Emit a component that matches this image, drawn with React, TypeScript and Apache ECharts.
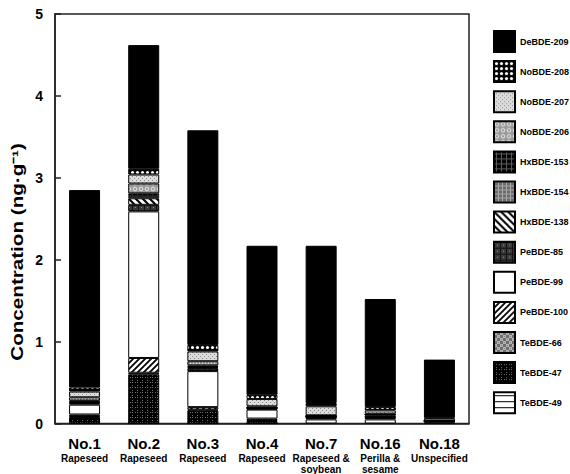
import React, { useEffect, useRef } from 'react';
import * as echarts from 'echarts';

const categories = ['No.1', 'No.2', 'No.3', 'No.4', 'No.7', 'No.16', 'No.18'];
const oilTypes = ['Rapeseed', 'Rapeseed', 'Rapeseed', 'Rapeseed', 'Rapeseed &\nsoybean', 'Perilla &\nsesame', 'Unspecified'];
const yTicks = [0, 1, 2, 3, 4, 5];
const yTitle = 'Concentration (ng·g⁻¹)';

// Legend order (top to bottom); stacked bottom-up in reverse order
const congeners = [
  'DeBDE-209', 'NoBDE-208', 'NoBDE-207', 'NoBDE-206',
  'HxBDE-153', 'HxBDE-154', 'HxBDE-138',
  'PeBDE-85', 'PeBDE-99', 'PeBDE-100',
  'TeBDE-66', 'TeBDE-47', 'TeBDE-49',
];

const deBDE209 = [2.41, 1.51, 2.62, 1.82, 1.92, 1.32, 0.71];
const noBDE208 = [0.05, 0.07, 0.08, 0.05, 0.04, 0.04, 0.01];
const noBDE207 = [0.07, 0.11, 0.12, 0.09, 0.11, 0.04, 0.03];
const noBDE206 = [0.04, 0.12, 0.05, 0.02, 0.01, 0.01, 0];
const hxBDE153 = [0.01, 0.03, 0.02, 0, 0, 0, 0];
const hxBDE154 = [0.01, 0.03, 0.01, 0, 0, 0, 0];
const hxBDE138 = [0.01, 0.08, 0.01, 0.01, 0, 0, 0];
const peBDE85 = [0.02, 0.08, 0.03, 0.01, 0.01, 0.01, 0];
const peBDE99 = [0.12, 1.79, 0.44, 0.11, 0, 0.02, 0];
const peBDE100 = [0.02, 0.18, 0.03, 0.02, 0, 0, 0];
const teBDE66 = [0.01, 0.02, 0.01, 0.01, 0.01, 0.01, 0];
const teBDE47 = [0.08, 0.6, 0.16, 0.03, 0.02, 0.02, 0.02];
const teBDE49 = [0, 0, 0, 0, 0.05, 0.05, 0.01];

const seriesValues = [
  deBDE209, noBDE208, noBDE207, noBDE206,
  hxBDE153, hxBDE154, hxBDE138,
  peBDE85, peBDE99, peBDE100,
  teBDE66, teBDE47, teBDE49,
];

const FONT = "'Liberation Sans', Arial, Helvetica, sans-serif";

type Draw = (ctx: CanvasRenderingContext2D, w: number, h: number) => void;
function pat(w: number, h: number, draw: Draw): any {
  const c = document.createElement('canvas');
  c.width = w;
  c.height = h;
  const ctx = c.getContext('2d')!;
  draw(ctx, w, h);
  return { image: c, repeat: 'repeat', imageWidth: w, imageHeight: h };
}

function makeFills(): any[] {
  const fillAll = (ctx: CanvasRenderingContext2D, col: string, w: number, h: number) => {
    ctx.fillStyle = col;
    ctx.fillRect(0, 0, w, h);
  };
  return [
    '#000000',
    // NoBDE-208: white dots on black checker
    pat(5, 5, (ctx, w, h) => {
      fillAll(ctx, '#000', w, h);
      ctx.fillStyle = '#fff';
      ctx.beginPath();
      ctx.arc(2.5, 2.5, 1.6, 0, Math.PI * 2);
      ctx.fill();
    }),
    // NoBDE-207: light grey stipple
    pat(4, 4, (ctx, w, h) => {
      fillAll(ctx, '#dcdcdc', w, h);
      ctx.fillStyle = '#8a8a8a';
      ctx.fillRect(0, 0, 1, 1);
      ctx.fillRect(2, 2, 1, 1);
    }),
    // NoBDE-206: grey with light circles
    pat(6, 6, (ctx, w, h) => {
      fillAll(ctx, '#9a9a9a', w, h);
      ctx.strokeStyle = '#e6e6e6';
      ctx.lineWidth = 1;
      ctx.beginPath();
      ctx.arc(3, 3, 1.8, 0, Math.PI * 2);
      ctx.stroke();
    }),
    // HxBDE-153: black grid
    pat(5, 5, (ctx, w, h) => {
      fillAll(ctx, '#050505', w, h);
      ctx.fillStyle = '#5a5a5a';
      ctx.fillRect(2, 0, 1, 5);
      ctx.fillRect(0, 2, 5, 1);
    }),
    // HxBDE-154: grey grid
    pat(4, 4, (ctx, w, h) => {
      fillAll(ctx, '#6a6a6a', w, h);
      ctx.fillStyle = '#a8a8a8';
      ctx.fillRect(0, 0, 1, 4);
      ctx.fillRect(0, 0, 4, 1);
    }),
    // HxBDE-138: backslash hatch
    pat(7, 7, (ctx, w, h) => {
      fillAll(ctx, '#fff', w, h);
      ctx.strokeStyle = '#000';
      ctx.lineWidth = 2;
      ctx.beginPath();
      ctx.moveTo(-2, -2); ctx.lineTo(9, 9);
      ctx.moveTo(-9, -2); ctx.lineTo(2, 9);
      ctx.moveTo(5, -2); ctx.lineTo(16, 9);
      ctx.stroke();
    }),
    // PeBDE-85: dark crosshatch grid
    pat(6, 6, (ctx, w, h) => {
      fillAll(ctx, '#3a3a3a', w, h);
      ctx.fillStyle = '#111';
      ctx.fillRect(0, 0, 1, 6);
      ctx.fillRect(0, 0, 6, 1);
      ctx.fillStyle = '#8c8c8c';
      ctx.fillRect(3, 3, 1, 1);
    }),
    // PeBDE-99: white
    '#ffffff',
    // PeBDE-100: slash hatch
    pat(6, 6, (ctx, w, h) => {
      fillAll(ctx, '#fff', w, h);
      ctx.strokeStyle = '#000';
      ctx.lineWidth = 1.8;
      ctx.beginPath();
      ctx.moveTo(-2, 8); ctx.lineTo(8, -2);
      ctx.moveTo(-8, 8); ctx.lineTo(2, -2);
      ctx.moveTo(4, 8); ctx.lineTo(14, -2);
      ctx.stroke();
    }),
    // TeBDE-66: grey checkered
    pat(6, 6, (ctx, w, h) => {
      fillAll(ctx, '#6e6e6e', w, h);
      ctx.fillStyle = '#b4b4b4';
      ctx.fillRect(0, 0, 3, 3);
      ctx.fillRect(3, 3, 3, 3);
      ctx.fillStyle = '#8a8a8a';
      ctx.fillRect(1, 1, 1, 1);
      ctx.fillRect(4, 4, 1, 1);
    }),
    // TeBDE-47: black with grey dotted grid
    pat(5, 5, (ctx, w, h) => {
      fillAll(ctx, '#000', w, h);
      ctx.fillStyle = '#6e6e6e';
      ctx.fillRect(2, 2, 1, 1);
      ctx.fillRect(0, 2, 1, 1);
      ctx.fillRect(2, 0, 1, 1);
    }),
    // TeBDE-49: horizontal lines
    pat(4, 6, (ctx, w, h) => {
      fillAll(ctx, '#fff', w, h);
      ctx.fillStyle = '#000';
      ctx.fillRect(0, 3, 4, 1);
    }),
  ];
}

export default function App() {
  const ref = useRef<HTMLDivElement>(null);

  useEffect(() => {
    if (!ref.current) return;
    const chart = echarts.init(ref.current, undefined, { renderer: 'svg' });
    const fills = makeFills();

    const stackOrder = congeners.map((_, i) => i).reverse();
    const series = stackOrder.map((i) => ({
      name: congeners[i],
      type: 'bar',
      stack: 'total',
      barWidth: 31,
      data: seriesValues[i],
      itemStyle: { color: fills[i], borderColor: '#000', borderWidth: 1 },
      emphasis: { disabled: true },
    }));

    const option: any = {
      animation: false,
      grid: {
        left: 55, right: 101, top: 14, bottom: 45,
        show: true, borderColor: '#222', borderWidth: 1.5, backgroundColor: 'transparent',
      },
      legend: {
        orient: 'vertical',
        left: 488,
        top: 25,
        itemWidth: 21,
        itemHeight: 21,
        itemGap: 7.1,
        icon: 'rect',
        selectedMode: false,
        data: congeners,
        textStyle: {
          fontFamily: FONT, fontSize: 9, fontWeight: 'bold', color: '#000',
        },
      },
      graphic: [
        {
          type: 'text',
          x: 17,
          y: 252,
          rotation: Math.PI / 2,
          scaleX: 1.29,
          style: {
            text: yTitle,
            font: `bold 16px ${FONT}`,
            fill: '#000',
            align: 'center',
            verticalAlign: 'middle',
          },
        },
      ],
      xAxis: {
        type: 'category',
        data: categories,
        axisLine: { lineStyle: { color: '#222', width: 1.5 } },
        axisTick: { show: false },
        axisLabel: {
          interval: 0,
          margin: 11,
          color: '#000',
          fontFamily: FONT,
          formatter: (v: string, i: number) => {
            const sub = oilTypes[i].split('\n').map((s) => `{b|${s}}`).join('\n');
            return `{a|${v}}\n${sub}`;
          },
          rich: {
            a: { fontFamily: FONT, fontSize: 15, fontWeight: 'bold', color: '#000', lineHeight: 18 },
            b: { fontFamily: FONT, fontSize: 10, fontWeight: 'bold', color: '#000', lineHeight: 11 },
          },
        },
      },
      yAxis: {
        type: 'value',
        min: yTicks[0],
        max: yTicks[yTicks.length - 1],
        interval: 1,
        axisLine: { show: true, lineStyle: { color: '#222', width: 1.5 } },
        axisTick: { show: true, inside: true, length: 6, lineStyle: { color: '#222', width: 1.5 } },
        axisLabel: { fontFamily: FONT, fontSize: 14, fontWeight: 'bold', color: '#000', margin: 12 },
        splitLine: { show: false },
      },
      series,
    };
    chart.setOption(option);
    return () => chart.dispose();
  }, []);

  return (
    <div
      ref={ref}
      style={{ position: 'fixed', left: 0, top: 0, width: 570, height: 474, background: '#fff' }}
    />
  );
}
